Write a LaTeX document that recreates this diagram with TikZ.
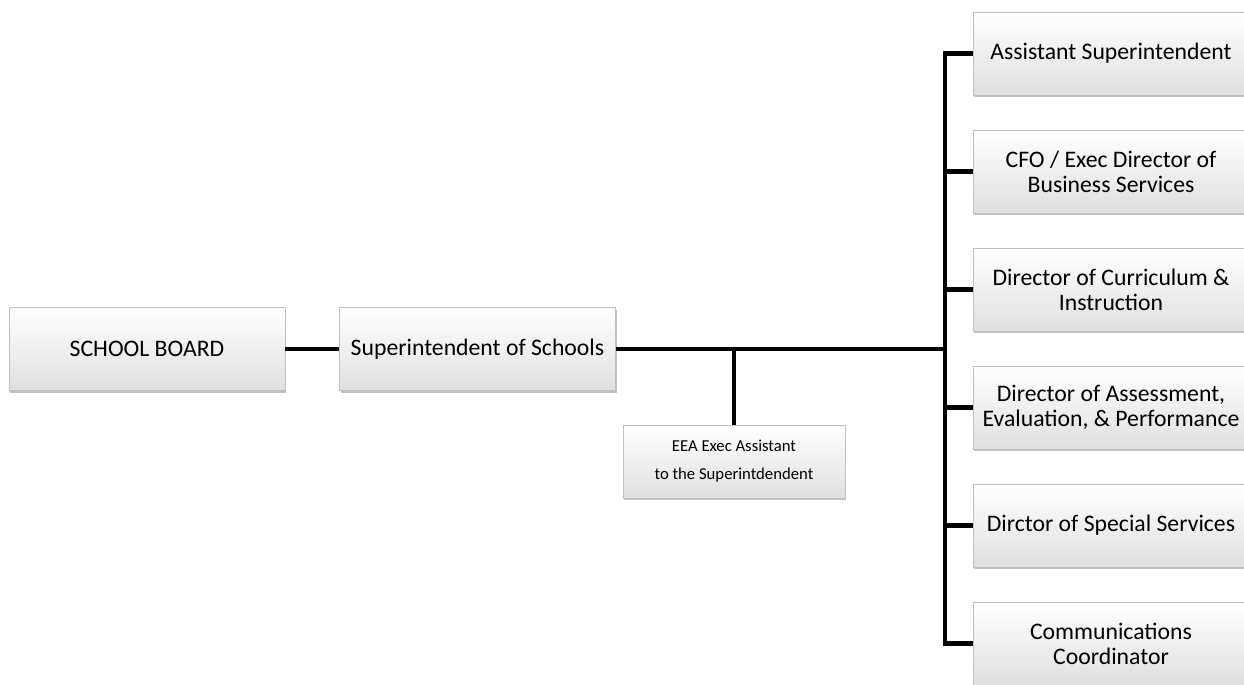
\documentclass[tikz,border=0pt]{standalone}
\usepackage{fontspec}
\setmainfont{Carlito}
\usetikzlibrary{shadows}
\tikzstyle{post}=[rectangle,draw=gray!50,line width=0.4pt,top color=white,bottom color=gray!25,drop shadow={shadow xshift=0.8pt,shadow yshift=-1.4pt,opacity=0.5},minimum width=5.52cm,minimum height=1.66cm,inner sep=2pt,align=center,font=\fontsize{13.5}{14.3}\selectfont]
\tikzstyle{small post}=[post,minimum width=4.44cm,minimum height=1.46cm,font=\fontsize{9.5}{16}\selectfont]
\tikzstyle{line}=[line width=2.3pt,black]

\begin{document}
\begin{tikzpicture}[x=0.02cm,y=-0.02cm]
\clip (0,0) rectangle (1244,685);
\fill[white] (0,0) rectangle (1244,685);
\node[post] at (147, 349) (board) {SCHOOL BOARD};
\node[post] at (477.5, 349) (super) {Superintendent of Schools};
\node[small post] at (734, 461.5) (eea) {EEA Exec Assistant\\to the Superintdendent};
\node[post] at (1111, 53.5) (asst) {Assistant Superintendent};
\node[post] at (1111, 171.5) (cfo) {CFO / Exec Director of\\Business Services};
\node[post] at (1111, 289.5) (curr) {Director of Curriculum \&\\Instruction};
\node[post] at (1111, 407.5) (assess) {Director of Assessment,\\Evaluation, \& Performance};
\node[post] at (1111, 525.5) (special) {Dirctor of Special Services};
\node[post] at (1111, 643.5) (comm) {Communications\\Coordinator};
\coordinate (tee) at (734, 349);
\coordinate (bus) at (945, 349);
\draw[line] (board) -- (super);
\draw[line] (super) -- (bus);
\draw[line] (tee) -- (eea);
\foreach \n in {asst,cfo,curr,assess,special,comm}
  \draw[line] (bus) |- (\n);
\end{tikzpicture}
\end{document}
